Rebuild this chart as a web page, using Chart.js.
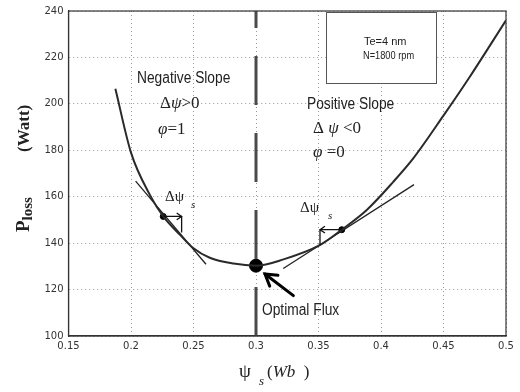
<!DOCTYPE html>
<html>
<head>
<meta charset="utf-8">
<script src="https://cdn.jsdelivr.net/npm/chart.js@4.4.0/dist/chart.umd.min.js"></script>
<style>
  html, body { margin: 0; padding: 0; background: #fff; }
  #wrap { width: 520px; height: 392px; position: relative; }
</style>
</head>
<body>
<div id="wrap"><canvas id="lossChart"></canvas></div>
<script>
// Loss curve
const fluxValues = [0.1875, 0.2, 0.2152, 0.2258, 0.2392, 0.25, 0.263, 0.282, 0.3, 0.322, 0.351, 0.3686, 0.3886, 0.4098, 0.4258, 0.4498, 0.4712, 0.5];
const lossValues = [206.5, 179, 160.7, 151.5, 143.6, 137.8, 133.7, 131.2, 130.3, 133.0, 139.1, 145.8, 154.3, 166.4, 176.5, 194.8, 211.8, 236];

// tangent lines at the two operating points
const leftTangentX = [0.2037, 0.26];
const leftTangentY = [166.7, 130.9];
const rightTangentX = [0.3218, 0.4264];
const rightTangentY = [129.1, 165.2];

// operating points and optimum
const operatingFlux = [0.2258, 0.3686];
const operatingLoss = [151.5, 145.8];
const optimalFlux = [0.3];
const optimalLoss = [130.3];

// flux step arrows (from operating point to step tip, then drop to curve)
const stepToFlux = [0.2405, 0.3512];
const stepDropLoss = [144.6, 139.2];

// "Optimal Flux" pointer: tail -> head
const pointerFlux = [0.3299, 0.3072];
const pointerLoss = [117.4, 126.7];

const xTicks = [0.15, 0.2, 0.25, 0.3, 0.35, 0.4, 0.45, 0.5];
const xTickLabels = ['0.15', '0.2', '0.25', '0.3', '0.35', '0.4', '0.45', '0.5'];
const yTicks = [100, 120, 140, 160, 180, 200, 220, 240];

const toPoints = (xs, ys) => xs.map((v, i) => ({ x: v, y: ys[i] }));

function drawRich(ctx, x, y, parts) {
    let cx = x;
    parts.forEach(([t, font, dy = 0, sx = 1]) => {
        ctx.font = font;
        ctx.save();
        ctx.translate(cx, y + dy);
        ctx.scale(sx, 1);
        ctx.fillText(t, 0, 0);
        ctx.restore();
        cx += ctx.measureText(t).width * sx;
    });
}

function arrowHead(ctx, fx, fy, tx, ty, len, spread) {
    const a = Math.atan2(ty - fy, tx - fx);
    ctx.beginPath();
    ctx.moveTo(tx - len * Math.cos(a - spread), ty - len * Math.sin(a - spread));
    ctx.lineTo(tx, ty);
    ctx.lineTo(tx - len * Math.cos(a + spread), ty - len * Math.sin(a + spread));
    ctx.stroke();
}

const annotations = {
    id: 'annotations',
    afterDatasetsDraw(chart) {
        const { ctx, chartArea: ca, scales: { x, y } } = chart;
        ctx.save();

        // box around the axes
        ctx.strokeStyle = '#333';
        ctx.lineWidth = 1.2;
        ctx.strokeRect(ca.left, ca.top, ca.right - ca.left, ca.bottom - ca.top);

        // step arrows
        ctx.strokeStyle = '#111';
        ctx.lineWidth = 1.3;
        operatingFlux.forEach((f, i) => {
            const x0 = x.getPixelForValue(f), y0 = y.getPixelForValue(operatingLoss[i]);
            const x1 = x.getPixelForValue(stepToFlux[i]);
            const y1 = y.getPixelForValue(stepDropLoss[i]);
            ctx.beginPath();
            ctx.moveTo(x0, y0);
            ctx.lineTo(x1, y0);
            ctx.moveTo(x1, y0);
            ctx.lineTo(x1, y1);
            ctx.stroke();
            arrowHead(ctx, x0, y0, x1, y0, 6, 0.6);
        });

        // optimal flux pointer
        const px0 = x.getPixelForValue(pointerFlux[0]), py0 = y.getPixelForValue(pointerLoss[0]);
        const px1 = x.getPixelForValue(pointerFlux[1]), py1 = y.getPixelForValue(pointerLoss[1]);
        ctx.strokeStyle = '#000';
        ctx.lineWidth = 3;
        ctx.lineCap = 'round';
        ctx.beginPath();
        ctx.moveTo(px0, py0);
        ctx.lineTo(px1, py1);
        ctx.stroke();
        arrowHead(ctx, px0, py0, px1, py1, 13, 0.55);

        // legend-like box
        ctx.lineWidth = 1;
        ctx.strokeStyle = '#555';
        ctx.fillStyle = '#fff';
        ctx.fillRect(326, 12, 110, 71);
        ctx.strokeRect(326.5, 12.5, 110, 71);

        ctx.fillStyle = '#222';
        ctx.textAlign = 'left';
        ctx.textBaseline = 'alphabetic';
        drawRich(ctx, 364, 45, [['Te=4 nm', '11px "Liberation Sans"', 0, 1]]);
        drawRich(ctx, 363, 59, [['N=1800 rpm', '11px "Liberation Sans"', 0, 0.84]]);

        const sans = '16px "Liberation Sans"';
        const serif = '17px "Liberation Serif"';
        const serifIt = 'italic 17px "Liberation Serif"';
        drawRich(ctx, 137, 83, [['Negative Slope', sans, 0, 0.86]]);
        drawRich(ctx, 160, 108, [['Δ', serif], ['ψ', serifIt], ['>0', serif]]);
        drawRich(ctx, 158, 133.5, [['φ', serifIt], ['=1', serif]]);
        drawRich(ctx, 307, 108.5, [['Positive Slope', sans, 0, 0.86]]);
        drawRich(ctx, 313, 133, [['Δ ', serif], ['ψ', serifIt], [' <0', serif]]);
        drawRich(ctx, 313, 156.5, [['φ', serifIt], [' =0', serif]]);
        drawRich(ctx, 262, 315, [['Optimal Flux', sans, 0, 0.86]]);

        drawRich(ctx, 165, 201, [['Δψ', '15px "Liberation Serif"']]);
        drawRich(ctx, 191, 208, [['s', 'italic 11px "Liberation Serif"']]);
        drawRich(ctx, 300, 212, [['Δψ', '15px "Liberation Serif"']]);
        drawRich(ctx, 328, 219, [['s', 'italic 11px "Liberation Serif"']]);

        // x axis title
        drawRich(ctx, 239, 377, [['ψ', '19px "Liberation Serif"']]);
        drawRich(ctx, 259, 385, [['s', 'italic 13px "Liberation Serif"']]);
        drawRich(ctx, 267, 377, [['(', '17px "Liberation Serif"'], ['Wb', 'italic 17px "Liberation Serif"'], ['  )', '17px "Liberation Serif"']]);

        // y axis title
        ctx.save();
        ctx.translate(29, 232);
        ctx.rotate(-Math.PI / 2);
        drawRich(ctx, 0, 0, [['P', 'bold 19px "Liberation Serif"'], ['loss', 'bold 15px "Liberation Serif"', 3]]);
        drawRich(ctx, 80, 0, [['(Watt)', 'bold 17px "Liberation Serif"']]);
        ctx.restore();

        ctx.restore();
    }
};

const tickFont = { family: '"DejaVu Sans"', size: 10 };

new Chart(document.getElementById('lossChart'), {
    type: 'line',
    data: {
        datasets: [{
            label: 'Optimal flux line',
            data: [{ x: 0.3, y: 100 }, { x: 0.3, y: 240 }],
            borderColor: '#4a4a4a',
            borderWidth: 3,
            borderDash: [49, 28],
            pointRadius: 0
        }, {
            label: 'P loss',
            data: toPoints(fluxValues, lossValues),
            borderColor: '#2a2a2a',
            borderWidth: 2,
            cubicInterpolationMode: 'monotone',
            pointRadius: 0
        }, {
            label: 'Left tangent',
            data: toPoints(leftTangentX, leftTangentY),
            borderColor: '#222',
            borderWidth: 1.3,
            pointRadius: 0
        }, {
            label: 'Right tangent',
            data: toPoints(rightTangentX, rightTangentY),
            borderColor: '#222',
            borderWidth: 1.3,
            pointRadius: 0
        }, {
            label: 'Operating points',
            data: toPoints(operatingFlux, operatingLoss),
            showLine: false,
            pointRadius: 3,
            pointBackgroundColor: '#000',
            pointBorderColor: '#000'
        }, {
            label: 'Optimum',
            data: toPoints(optimalFlux, optimalLoss),
            showLine: false,
            pointRadius: 6.5,
            pointBackgroundColor: '#000',
            pointBorderColor: '#000'
        }]
    },
    options: {
        responsive: true,
        maintainAspectRatio: false,
        animation: false,
        layout: { padding: { top: 7, right: 14, left: 0, bottom: 0 } },
        plugins: { legend: { display: false }, tooltip: { enabled: false } },
        scales: {
            x: {
                type: 'linear',
                min: 0.15,
                max: 0.5,
                afterBuildTicks: (scale) => { scale.ticks = xTicks.map(v => ({ value: v })); },
                afterFit: (scale) => { scale.height = 56; },
                ticks: {
                    padding: 4,
                    color: '#333',
                    font: tickFont,
                    maxRotation: 0,
                    autoSkip: false,
                    callback: (v) => xTickLabels[xTicks.indexOf(v)] ?? ''
                },
                grid: { color: '#999', lineWidth: 1, drawTicks: false },
                border: { display: true, color: '#333', width: 1.2, dash: [1, 3] }
            },
            y: {
                type: 'linear',
                min: 100,
                max: 240,
                afterBuildTicks: (scale) => { scale.ticks = yTicks.map(v => ({ value: v })); },
                afterFit: (scale) => { scale.width = 68.5; },
                ticks: { padding: 5, color: '#333', font: tickFont, autoSkip: false },
                grid: { color: '#999', lineWidth: 1, drawTicks: false },
                border: { display: true, color: '#333', width: 1.2, dash: [1, 3] }
            }
        }
    },
    plugins: [annotations]
});
</script>
</body>
</html>
